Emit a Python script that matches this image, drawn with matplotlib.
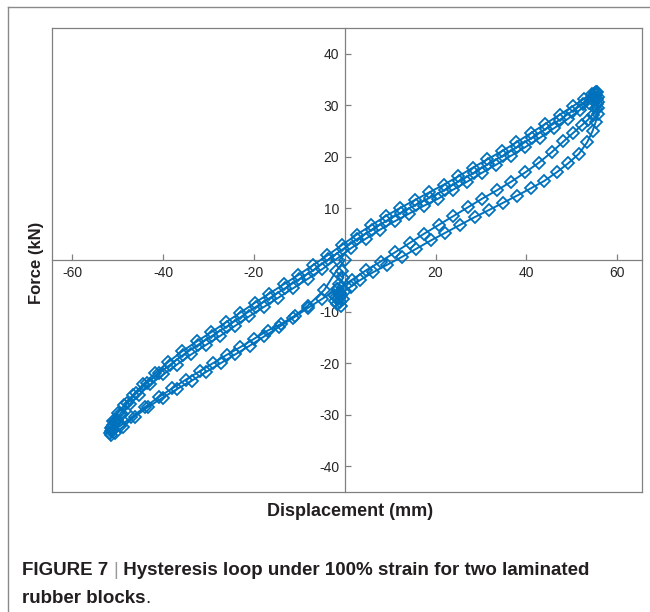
import matplotlib
matplotlib.use("Agg")
import matplotlib.pyplot as plt
from matplotlib.lines import Line2D
import numpy as np

# ---------------- data ----------------
# initial branch from the origin towards the negative peak
l1_x = [0.0, -1.9, -4.5, -8.2, -11.0, -14.0, -17.0, -20.0, -23.0, -26.0, -29.0, -32.0,
        -35.0, -38.0, -41.0, -44.0, -47.0, -49.5, -51.2]
l1_y = [0.0, -2.2, -5.8, -8.9, -10.8, -12.4, -13.7, -15.3, -16.9, -18.4, -20.0, -21.6,
        -23.2, -24.9, -26.6, -28.5, -30.5, -32.2, -33.2]
# first loading (upper) branch
u1_x = [-51.4, -51.0, -50.2, -49.0, -47.4, -45.3, -42.8, -40.0, -37.0, -33.8, -30.6, -27.4,
        -24.2, -21.0, -17.8, -14.6, -11.4, -8.2, -5.0, -1.8, 1.4, 4.6, 7.8, 11.0, 14.2, 17.4,
        20.6, 23.8, 27.0, 30.2, 33.4, 36.6, 39.8, 43.0, 46.2, 49.2, 51.8, 53.8, 55.0, 55.4]
u1_y = [-33.2, -32.1, -31.1, -29.9, -28.0, -26.1, -24.1, -22.2, -20.3, -18.3, -16.5, -14.7,
        -12.8, -10.9, -9.1, -7.3, -5.5, -3.7, -1.8, 0.2, 2.3, 4.1, 5.9, 7.5, 9.0, 10.5,
        11.9, 13.6, 15.2, 16.9, 18.5, 20.2, 21.9, 23.7, 25.6, 27.4, 29.1, 30.5, 31.5, 32.0]
# first unloading (lower) branch
b_x = [55.6, 55.6, 55.3, 54.6, 53.6, 52.2, 50.4, 48.2, 45.6, 42.8, 39.8, 36.7, 33.5, 30.3,
       27.1, 23.9, 20.7, 17.5, 14.3, 11.1, 7.9, 4.7, 1.5, -1.7, -4.9, -8.1, -11.3, -14.5,
       -17.7, -20.9, -24.1, -27.3, -30.5, -33.7, -36.9, -40.1, -43.3, -46.3, -48.8, -50.6, -51.6]
b_y = [31.2, 30.2, 29.2, 28.2, 27.2, 26.1, 24.7, 23.0, 20.9, 18.9, 17.0, 15.2, 13.5, 11.9,
       10.2, 8.5, 6.8, 5.1, 3.3, 1.5, -0.3, -2.0, -3.9, -5.7, -7.5, -9.3, -11.2, -13.0,
       -14.8, -16.6, -18.3, -20.0, -21.7, -23.4, -25.0, -26.7, -28.5, -30.4, -32.3, -33.6, -33.9]
# second loading (upper) branch
u2_x = [-51.5, -51.0, -50.0, -48.6, -46.7, -44.4, -41.8, -38.9, -35.8, -32.6, -29.4, -26.2,
        -23.0, -19.8, -16.6, -13.4, -10.2, -7.0, -3.8, -0.6, 2.6, 5.8, 9.0, 12.2, 15.4, 18.6,
        21.8, 25.0, 28.2, 31.4, 34.6, 37.8, 41.0, 44.2, 47.4, 50.4, 52.8, 54.5, 55.4]
u2_y = [-32.6, -31.2, -29.7, -28.2, -26.2, -24.1, -22.0, -19.8, -17.7, -15.8, -14.0, -12.1,
        -10.2, -8.3, -6.5, -4.7, -2.9, -1.0, 0.9, 2.9, 4.9, 6.7, 8.5, 10.1, 11.6, 13.1,
        14.6, 16.2, 17.9, 19.5, 21.1, 22.8, 24.6, 26.4, 28.2, 29.9, 31.3, 32.2, 32.6]
# second unloading (lower) branch, ending near the origin
a_x = [55.8, 55.9, 55.9, 55.7, 55.3, 54.6, 53.4, 51.6, 49.3, 46.7, 43.9, 41.0, 38.0, 34.9,
       31.8, 28.6, 25.4, 22.2, 19.0, 15.8, 12.6, 9.4, 6.2, 3.4, 1.3, 0.0, -0.8, -1.3, -1.0,
       -1.6, -2.2, -1.9, -1.1, -0.4, -0.9, -1.5, -2.4, -1.2, -0.3, -0.6]
a_y = [31.6, 30.6, 29.5, 28.3, 26.8, 25.0, 22.8, 20.6, 18.8, 17.0, 15.3, 13.9, 12.5, 11.1,
       9.7, 8.3, 6.8, 5.3, 3.8, 2.2, 0.6, -0.9, -2.4, -3.9, -5.2, -6.0, -6.7, -7.3, -8.1,
       -8.6, -8.0, -7.2, -6.4, -7.6, -9.0, -5.6, -6.8, -4.6, -3.4, -2.2]
# third loading (upper) branch
u3_x = [-51.7, -51.3, -50.6, -49.5, -47.9, -45.9, -43.5, -41.0, -38.6, -35.6, -32.4, -29.2,
        -26.0, -22.8, -19.6, -16.4, -13.2, -10.0, -6.8, -3.6, -0.4, 2.8, 6.0, 9.2, 12.4,
        15.6, 18.8, 22.0, 25.2, 28.4, 31.6, 34.8, 38.0, 41.2, 44.4, 47.4, 50.0, 52.4, 54.2,
        55.2, 55.6]
u3_y = [-33.6, -32.4, -31.2, -29.9, -27.8, -25.8, -23.8, -22.0, -20.4, -18.4, -16.5, -14.7,
        -12.9, -11.0, -9.1, -7.3, -5.5, -3.7, -1.9, 0.1, 2.1, 4.1, 5.9, 7.6, 9.2,
        10.7, 12.1, 13.6, 15.3, 16.9, 18.6, 20.2, 21.9, 23.7, 25.5, 27.2, 28.8, 30.3, 31.5,
        32.3, 32.5]

x_ticks = [-60, -40, -20, 20, 40, 60]
y_ticks = [-40, -30, -20, -10, 10, 20, 30, 40]

disp = np.concatenate([l1_x, u1_x, b_x, u2_x, a_x])
force = np.concatenate([l1_y, u1_y, b_y, u2_y, a_y])

# ---------------- figure ----------------
W, H = 650, 612
fig = plt.figure(figsize=(W / 100, H / 100), dpi=100)
fig.patch.set_facecolor("white")

ax = fig.add_axes([52 / W, 1 - 492 / H, 590 / W, 464 / H])
ax.set_xlim(-64.5, 65.5)
ax.set_ylim(-45, 45)

blue = "#0072BD"
style = dict(color=blue, lw=1.4, marker="D", markersize=6, markerfacecolor="none",
             markeredgecolor=blue, markeredgewidth=1.3, zorder=3)
ax.plot(disp, force, **style)
ax.plot(u3_x, u3_y, **style)

gray = "#808080"
ax.spines["left"].set_position(("data", 0))
ax.spines["bottom"].set_position(("data", 0))
for s in ["left", "bottom", "top", "right"]:
    ax.spines[s].set_color(gray)
    ax.spines[s].set_linewidth(0.9)
# border lines for the left and bottom edges of the box
ax.plot([0, 0], [0, 1], transform=ax.transAxes, color=gray, lw=0.9, clip_on=False)
ax.plot([0, 1], [0, 0], transform=ax.transAxes, color=gray, lw=0.9, clip_on=False)

ax.set_xticks(x_ticks)
ax.set_yticks(y_ticks)
ax.set_xticklabels([str(v) for v in x_ticks])
ax.set_yticklabels([str(v) for v in y_ticks])
ax.tick_params(direction="in", length=4, width=0.9, color=gray, labelsize=10,
               labelcolor="#262626", pad=4)
for lab in ax.get_xticklabels() + ax.get_yticklabels():
    lab.set_fontfamily("Liberation Sans")

fig.text(350 / W, 1 - 511 / H, "Displacement (mm)", ha="center", va="center",
         fontsize=13, fontweight="bold", family="Liberation Sans", color="#231f20")
fig.text(37 / W, 1 - 263 / H, "Force (kN)", ha="center", va="center", rotation=90,
         fontsize=12, fontweight="bold", family="Liberation Sans", color="#231f20")

# outer frame (left and top)
fig.add_artist(Line2D([8 / W, 8 / W], [0, 1 - 7 / H], transform=fig.transFigure,
                      color="#8a8a8a", lw=1.0))
fig.add_artist(Line2D([8 / W, 1], [1 - 7 / H, 1 - 7 / H], transform=fig.transFigure,
                      color="#8a8a8a", lw=1.0))

# caption, built from pieces
fig.canvas.draw()
r = fig.canvas.get_renderer()
cap_size = 13.5
def piece(x_px, y_px, s, weight="bold", color="#231f20"):
    t = fig.text(x_px / W, 1 - y_px / H, s, ha="left", va="baseline", fontsize=cap_size,
                 fontweight=weight, family="Liberation Sans", color=color)
    bb = t.get_window_extent(renderer=r)
    return x_px + bb.width

yb1 = 575
x = 22
x = piece(x, yb1, "FIGURE 7 ")
x = piece(x, yb1, "|", weight="normal", color="#9a9a9a")
x = piece(x, yb1, " Hysteresis loop under 100% strain for two laminated")
yb2 = 603
x = 22
x = piece(x, yb2, "rubber blocks")
piece(x, yb2, ".", weight="normal")

fig.savefig("out.png", dpi=100, facecolor="white")
